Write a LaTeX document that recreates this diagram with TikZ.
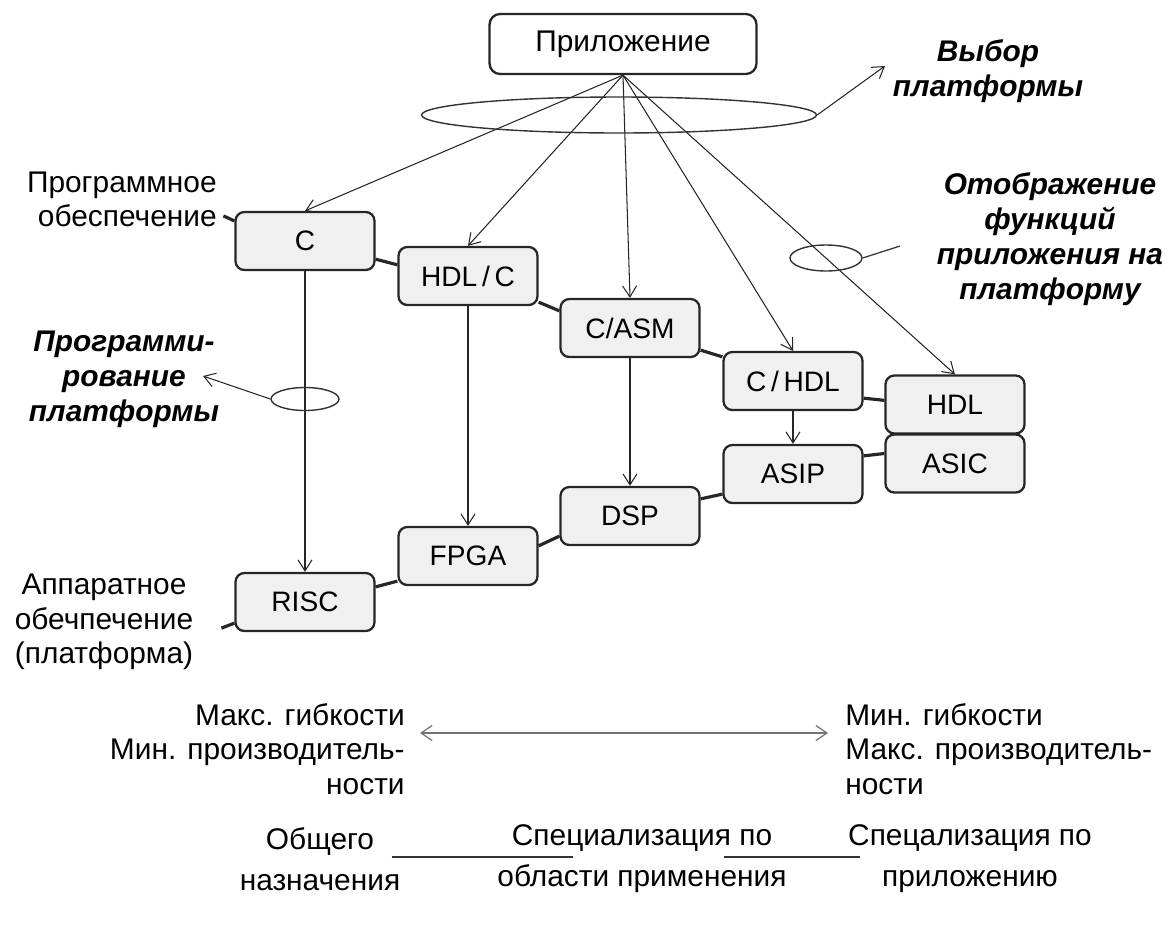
\documentclass[tikz,border=0pt]{standalone}
\usepackage{fontspec}
\setmainfont{Liberation Sans}
\usetikzlibrary{shapes.geometric, arrows.meta, positioning, calc}

\begin{document}
\begin{tikzpicture}[
		x=0.02cm, y=-0.02cm,
		font=\fontsize{17}{19.5}\selectfont,
		% Styles
		platbox/.style={draw=black!85, fill=gray!12, line width=1.3pt, rounded corners=5pt, minimum width=2.78cm, minimum height=1.16cm, inner sep=0pt, font=\fontsize{16}{19}\selectfont},
		appbox/.style={draw=black!85, fill=white, line width=1.3pt, rounded corners=6pt, minimum width=5.34cm, minimum height=1.2cm, inner sep=0pt},
		ring/.style={draw=black!80, ellipse, line width=0.8pt, inner sep=0pt},
		arrow/.style={-{Straight Barb[length=2.2mm, width=2.8mm]}, line width=0.6pt, draw=black!85},
		dblarrow/.style={{Straight Barb[length=2.2mm, width=3mm]}-{Straight Barb[length=2.2mm, width=3mm]}, line width=0.7pt, draw=black!55},
		link/.style={line width=1.8pt, draw=black!85},
		thinline/.style={line width=0.7pt, draw=black!80},
		note/.style={font=\fontsize{17}{20}\selectfont\bfseries\itshape, align=center, inner sep=0pt},
		lbl/.style={inner sep=0pt}
		]
		\useasboundingbox (0,0) rectangle (1171,924);
		
		% =========================================================
		% 1. APPLICATION AND PLATFORM BOXES
		% =========================================================
		\node[appbox] (app) at (623,44) {Приложение};
		
		% software row
		\node[platbox] (C)    at (305,241)   {C};
		\node[platbox] (HDLC) at (468,276)   {HDL\,/\,C};
		\node[platbox] (CASM) at (630,328)   {C/ASM};
		\node[platbox] (CHDL) at (793,381)   {C\,/\,HDL};
		\node[platbox] (HDL)  at (955,404.5) {HDL};
		
		% hardware row
		\node[platbox] (RISC) at (305,602)   {RISC};
		\node[platbox] (FPGA) at (468,556)   {FPGA};
		\node[platbox] (DSP)  at (630,516)   {DSP};
		\node[platbox] (ASIP) at (793,474)   {ASIP};
		\node[platbox] (ASIC) at (955,463.5) {ASIC};
		
		% chain links
		\draw[link] ([shift={(0,-12)}]C.south east)    -- ([shift={(0,19)}]HDLC.north west);
		\draw[link] ([shift={(0,-4)}]HDLC.south east)  -- ([shift={(0,13)}]CASM.north west);
		\draw[link] ([shift={(0,-8)}]CASM.south east)  -- ([shift={(0,6)}]CHDL.north west);
		\draw[link] ([shift={(0,-13)}]CHDL.south east) -- ([shift={(0,26)}]HDL.north west);
		\draw[link] ([shift={(0,15)}]RISC.north east)  -- ([shift={(0,-5)}]FPGA.south west);
		\draw[link] ([shift={(0,20)}]FPGA.north east)  -- ([shift={(0,-10)}]DSP.south west);
		\draw[link] ([shift={(0,13)}]DSP.north east)   -- ([shift={(0,-10)}]ASIP.south west);
		\draw[link] ([shift={(0,12)}]ASIP.north east)  -- ([shift={(0,-10)}]ASIC.west);
		
		% =========================================================
		% 2. MAPPING AND PROGRAMMING ARROWS
		% =========================================================
		\foreach \dst in {C, HDLC, CASM, CHDL, HDL}
		\draw[arrow] (app.south) -- (\dst.north);
		
		\draw[arrow] (C.south)    -- (RISC.north);
		\draw[arrow] (HDLC.south) -- (FPGA.north);
		\draw[arrow] (CASM.south) -- (DSP.north);
		\draw[arrow] (CHDL.south) -- (ASIP.north);
		
		% rings with their pointers
		\node[ring, minimum width=7.9cm, minimum height=0.72cm] (selring) at (619,115) {};
		\coordinate (selend) at (885,66);
		\draw[arrow] (selring.east) -- (selend);
		
		\node[ring, minimum width=1.44cm, minimum height=0.52cm] (mapring) at (826,258) {};
		\coordinate (mapend) at (900,246);
		\draw[thinline] (mapring.east) -- (mapend);
		
		\node[ring, minimum width=1.36cm, minimum height=0.46cm] (progring) at (305,399) {};
		\coordinate (progend) at (203,376);
		\draw[arrow] (progring.west) -- (progend);
		
		% =========================================================
		% 3. LABELS
		% =========================================================
		\node[note] (selnote) at (988,71) {Выбор\\платформы};
		\node[note] (mapnote) at (1050,239) {Отображение\\функций\\приложения на\\платформу};
		\node[note] (prognote) at (124,379) {Программи-\\рование\\платформы};
		
		\node[lbl, anchor=east, align=right] (swlbl) at (217,199) {Программное\\обеспечение};
		\node[lbl, align=center] (hwlbl) at (104,622) {Аппаратное\\обечпечение\\(платформа)};
		\draw[link] ([shift={(-11,5)}]C.north west) -- ([shift={(0,10)}]C.north west);
		\draw[link] ([shift={(-13,-4)}]RISC.south west) -- ([shift={(0,-9)}]RISC.south west);
		
		% =========================================================
		% 4. FLEXIBILITY / PERFORMANCE SCALE
		% =========================================================
		\node[lbl, anchor=east, align=right] (flexL) at (405,749) {Макс. гибкости\\Мин. производитель-\\ности};
		\node[lbl, anchor=west, align=left] (flexR) at (845,749) {Мин. гибкости\\Макс. производитель-\\ности};
		\draw[dblarrow] ([shift={(15,-16)}]flexL.east) -- ([shift={(-17,-16)}]flexR.west);
		
		\node[lbl, align=center] (gen) at (320,859) {Общего\\[4pt]назначения};
		\node[lbl, align=center] (dom) at (642,859) {Специализация по\\[4pt]области применения};
		\node[lbl, align=center] (apl) at (970,859) {Спецализация по\\[4pt]приложению};
		\draw[thinline, line width=1pt] ([shift={(-9,-2)}]gen.east) -- ([shift={(76,-2)}]dom.west);
		\draw[thinline, line width=1pt] ([shift={(-63,-2)}]dom.east) -- ([shift={(12,-2)}]apl.west);
		
	\end{tikzpicture}
\end{document}
